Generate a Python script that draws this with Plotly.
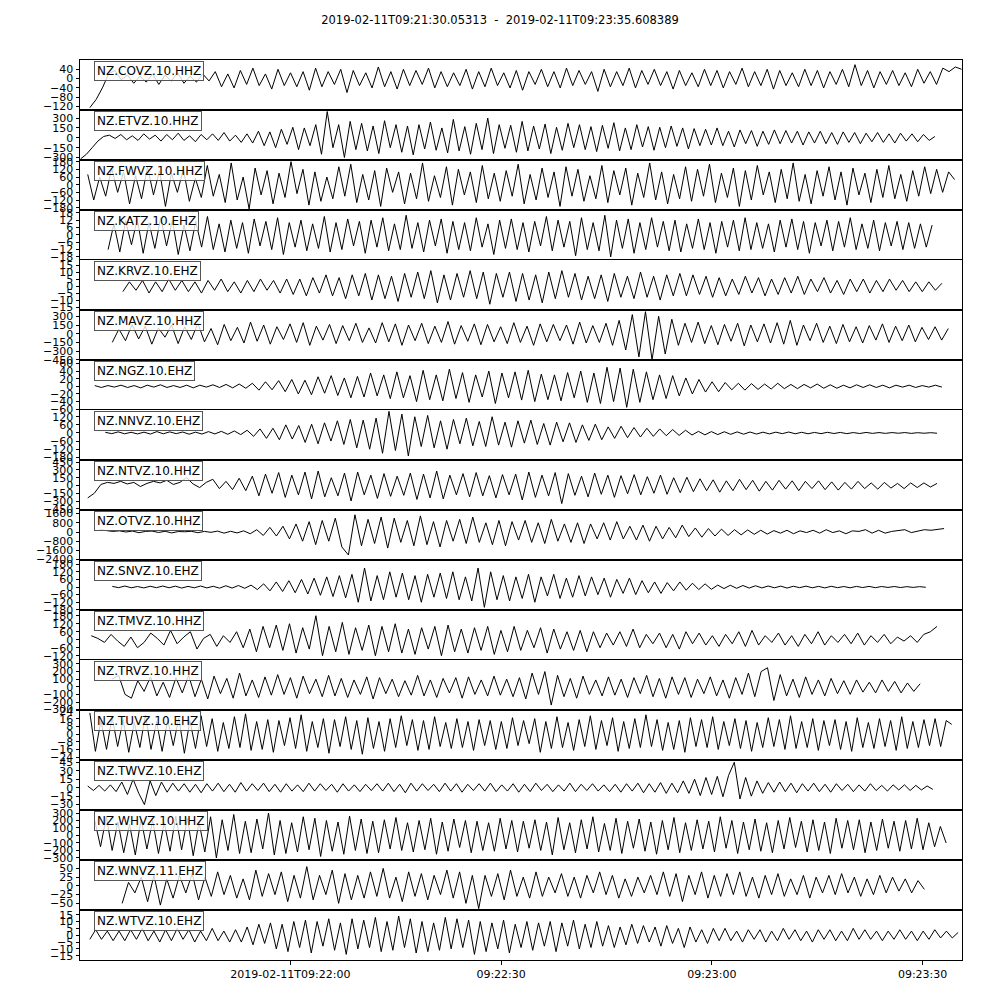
import plotly.graph_objects as go
from plotly.subplots import make_subplots

TITLE = "2019-02-11T09:21:30.05313  -  2019-02-11T09:23:35.608389"
T_TOTAL = 125.555  # seconds shown on the time axis

stations = ["NZ.COVZ.10.HHZ", "NZ.ETVZ.10.HHZ", "NZ.FWVZ.10.HHZ", "NZ.KATZ.10.EHZ",
            "NZ.KRVZ.10.EHZ", "NZ.MAVZ.10.HHZ", "NZ.NGZ.10.EHZ", "NZ.NNVZ.10.EHZ",
            "NZ.NTVZ.10.HHZ", "NZ.OTVZ.10.HHZ", "NZ.SNVZ.10.EHZ", "NZ.TMVZ.10.HHZ",
            "NZ.TRVZ.10.HHZ", "NZ.TUVZ.10.EHZ", "NZ.TWVZ.10.EHZ", "NZ.WHVZ.10.HHZ",
            "NZ.WNVZ.11.EHZ", "NZ.WTVZ.10.EHZ"]

# trace start / end times (s after 09:21:30.05313)
t_start = [1.4, 0.1, 1.1, 4.0, 6.1, 4.6, 2.1, 3.6, 1.1, 2.8, 4.6, 1.6, 4.6, 1.4, 1.1, 2.1, 6.0, 1.4]
t_end = [125.5, 121.7, 124.5, 121.3, 122.7, 123.6, 122.7, 122.0, 122.0, 123.0, 120.4, 122.0, 119.6, 124.1, 121.4, 123.3, 120.2, 125.0]

# y-axis limits per panel
y_lo = [-135, -338, -198, -20.5, -17.1, -453, -62, -200, -474, -2435, -181, -152, -305, -27, -39.5, -327, -69, -18.1]
y_hi = [80, 423, 193, 20.3, 18.6, 409, 69, 170, 493, 1913, 213, 223, 352, 25, 49, 340, 74, 18.4]

# y tick values per panel
y_ticks = [
    [40, 0, -40, -80, -120],
    [300, 150, 0, -150, -300],
    [180, 120, 60, 0, -60, -120, -180],
    [18, 12, 6, 0, -6, -12, -18],
    [15, 10, 5, 0, -5, -10, -15],
    [300, 150, 0, -150, -300, -450],
    [60, 40, 20, 0, -20, -40, -60],
    [120, 60, 0, -60, -120, -180],
    [450, 300, 150, 0, -150, -300, -450],
    [1600, 800, 0, -800, -1600, -2400],
    [180, 120, 60, 0, -60, -120, -180],
    [180, 120, 60, 0, -60, -120],
    [300, 200, 100, 0, -100, -200, -300],
    [24, 16, 8, 0, -8, -16, -24],
    [45, 30, 15, 0, -15, -30],
    [300, 200, 100, 0, -100, -200, -300],
    [50, 25, 0, -25, -50],
    [15, 10, 5, 0, -5, -10, -15],
]

# x tick positions (s) and labels
x_tick_vals = [29.947, 59.947, 89.947, 119.947]
x_tick_text = ["2019-02-11T09:22:00", "09:22:30", "09:23:00", "09:23:30"]

# waveform samples (counts)
covz = [-125, -90, -40, 20, 35, -5, 15, -20, 10, -15, 20, -25, 15, -10, 25, -20, 10, -15, 20, -10,
        30, -35, 20, -40, 35, -25, 45, -30, 20, -45, 40, -30, 25, -35, 30, -50, 45, -35, 30, -25,
        40, -60, 35, -30, 25, -40, 50, -35, 30, -45, 40, -30, 35, -25, 45, -40, 30, -35, 25, -30,
        40, -45, 30, -35, 45, -30, 25, -40, 35, -50, 30, -25, 40, -35, 30, -40, 45, -30, 35, -25,
        30, -55, 40, -35, 30, -30, 45, -40, 35, -25, 40, -30, 30, -45, 35, -30, 25, -35, 40, -30,
        35, -40, 30, -25, 45, -35, 30, -30, 40, -45, 35, -30, 25, -35, 40, -30, 35, -40, 30, -25,
        40, -35, 60, -30, 35, -40, 30, -25, 35, -30, 25, -35, 40, -20, 30, -25, 45, 30, 50, 40]
etvz = [-320, -250, -150, -50, 20, 40, -10, 50, -30, 30, -40, 60, -20, 40, -50, 50, -30, 70, -40, 30,
        -60, 50, -30, 60, -40, 80, -50, 40, -70, 60,
        -80, 100, -120, 90, -150, 130, -100, 160, -180, 150, -120, 200,
        -250, 400, -150, 200, -300, 250, -180,
        220, -200, 180, -240, 260, -150, 200, -220, 180, -260, 200, -170, 240, -190, 150, -230, 280, -200, 170, -250,
        220, -180, 300, -240, 200, -160, 190, -220, 250, -200, 180, -170, 210, -240, 160, -190, 220, -150, 200, -180,
        170, -210, 190, -160, 230, -200, 150, -180, 200, -140, 170, -190, 160, -150, 180, -130, 150, -170, 140, -120,
        130, -110, 150, -120, 100, -140, 120, -90, 110, -130, 100, -100, 120, -90, 110, -80, 100, -110, 90, -80,
        100, -90, 80, -100, 90, -70, 80, -90, 70, -60, 80, -70, 60, -80, 70, -50, 60, -60, 50, -40, 20]
fwvz = [80, -120, 60, -90, 130, -60, 100, -150, 70, -110, 140, -80, 110, -170, 90, -60, 120, -130, 50, -100,
        150, -90, 80, -140, 170, -120, 60, -190, 130, -80, 110, -150, 90, -100, 180, -70, 120, -160, 100, -130,
        60, -110, 140, -90, 160, -140, 80, -120, 110, -170, 130, -60, 100, -150, 90, -110, 170, -130, 70, -100,
        140, -160, 120, -80, 100, -140, 150, -110, 90, -130, 110, -90, 160, -150, 80, -120, 130, -100, 100, -170,
        140, -90, 120, -130, 70, -110, 150, -140, 110, -80, 130, -160, 90, -100, 170, -120, 100, -150, 80, -110,
        140, -130, 120, -90, 160, -140, 90, -100, 130, -170, 110, -120, 150, -80, 100, -140, 120, -110, 170, -130,
        80, -150, 110, -90, 140, -120, 100, -160, 130, -80, 90, -140, 120, -100, 150, -110, 80, -130, 110, -90,
        140, -70, 120, -60, 100, 40]
katz = [-12, 9, -14, 11, -8, 13, -15, 10, -11, 14, -9, 12, -16, 8, -13, 11, -10, 15, -12, 9,
        -14, 12, -11, 10, -15, 13, -9, 11, -12, 14, -16, 10, -10, 12, -13, 9, -11, 15, -14, 10,
        -12, 13, -9, 11, -15, 12, -10, 14, -13, 9, -12, 16, -11, 10, -14, 12, -9, 13, -15, 11,
        -12, 10, -13, 14, -10, 9, -16, 12, -11, 13, -12, 10, -14, 11, -9, 15, -13, 12, -10, 11,
        -17, 14, -12, 10, -13, 16, -18, 12, -11, 13, -15, 10, -12, 14, -10, 11, -13, 12, -14, 9,
        -11, 13, -12, 10, -15, 11, -10, 12, -13, 14, -12, 10, -11, 9, -14, 12, -10, 13, -12, 11,
        -15, 10, -9, 12, -13, 11, -10, 14, -12, 9, -11, 12, -13, 10, -9, 11, -12, 10, -11, 9, -10, 8]
krvz = [-4, 3, -3, 4, -5, 3, -4, 5, -3, 4, -4, 3, -5, 4, -3, 5, -4, 3, -5, 4, -4, 5, -3, 4, -5, 5,
        -6, 5, -7, 6, -5, 8, -7, 6, -9, 8, -7, 9, -10, 8, -9, 7, -11, 9, -8, 10, -9, 11, -12, 8,
        -10, 9, -8, 11, -9, 10, -13, 9, -8, 10, -11, 9, -10, 8, -12, 10, -9, 11, -8, 9, -10, 7,
        -9, 8, -11, 9, -8, 7, -9, 10, -8, 7, -10, 8, -7, 9,
        -7, 8, -6, 7, -8, 6, -7, 5, -6, 7, -5, 6, -7, 5, -6, 6, -5, 7, -6, 5, -4, 6, -5, 4,
        -6, 5, -4, 5, -5, 4, -4, 5, -3, 4, -4, 3, -4, 3, -3, 2]
mavz = [-150, 80, -120, 160, -90, 130, -180, 100, -60, 150, -170, 120, -100, 180, -140, 90, -190, 160, -120, 110,
        -160, 200, -130, 150, -180, 120, -100, 170, -150, 190, -200, 130, -110, 160, -170, 140, -120, 180, -150, 100,
        -160, 190, -140, 170, -200, 150, -120, 180, -170, 130, -150, 210, -180, 140, -130, 170, -190, 160, -140, 120,
        -170, 190, -150, 130, -200, 170, -140, 160, -120, 150, -180, 200, -160, 140, -150, 180, -200, 230,
        -280, 330, -400, 380, -450, 300, -350, 250,
        -200, 180, -150, 200, -170, 140, -190, 160, -130, 180, -210, 150, -140, 170, -160, 190, -180, 230, -200, 150,
        -120, 180, -150, 130, -170, 160, -140, 120, -160, 140, -110, 170, -150, 130, -120, 150, -140, 110, -100, 120,
        -110, 90]
ngz = [2, -3, 2, -2, 3, -3, 2, -4, 3, -2, 4, -3, 2, -3, 3, -4, 3, -2, 4, -3, 5, -4, 6, -5,
       8, -10, 12, -9, 15, -14, 18, -20, 16, -22, 25, -18, 28, -24, 22, -30, 26, -28, 35, -25, 30, -32,
       38, -30, 28, -40, 42, -35, 30, -38, 45, -32, 36, -42, 30, -28, 40, -45, 35, -30, 38, -36,
       42, -40, 32, -35, 30, -38, 36, -30, 40, -42, 35, -45, 50, -40, 48, -55, 45, -42, 38, -35,
       30, -32, 28, -25, 22,
       -20, 18, -15, 12, -14, 10, -9, 8, -10, 7, -8, 6, -7, 8, -6, 5, -6, 5, -4, 6, -5, 4, -5, 3,
       -4, 4, -3, 4, -3, 3, -4, 3, -2, 3, -3, 2, -2, 3, -2]
nnvz = [5, -5, 8, -6, 5, -7, 6, -8, 10, -6, 8, -5, 7, -9, 6, -8, 10, -7, 12, -10, 15, -12,
        20, -25, 30, -40, 35, -50, 60, -45, 55, -70, 65, -80, 75, -60, 90, -85, 100, -110, 95, -120, 110,
        -150, 160, -130, 140, -170, 120,
        -100, 130, -110, 90, -120, 100, -80, 110, -95, 85, -100, 120, -90, 80, -105, 90, -75, 95, -85, 70,
        -90, 80, -65, 75, -70, 60, -55, 65,
        -50, 45, -40, 50, -35, 40, -30, 35, -25, 30, -20, 25, -18, 20, -15, 12, -14, 10, -12, 9,
        -10, 8, -9, 7, -8, 6, -7, 6, -5, 7, -6, 5, -6, 4, -5, 5, -4, 4, -5, 3, -4, 4, -3, 3,
        -3, 3, -2, 3, -3, 2, -2, 2, -2]
ntvz = [-240, -150, 20, 60, 40, 80, 30, 60, -20, 40, 80, 50, 100, 20, 60, 150, 30, -40, 60, 120, -60, 80, -80, 140,
        -100, 180, -200, 220, -150, 250, -230, 200, -180, 260, -260, 280, -220, 150, -200, 240, -300, 260, -180, 200,
        -250, 230, -210, 180, -190, 240, -270, 220, -240, 280, -260, 200, -180, 230, -220, 250, -200, 190, -240, 210,
        -180, 220, -280, 260, -230, 200, -200, 250, -350, 230, -190, 180, -220, 240, -170, 200, -230, 190, -160, 210,
        -180, 170, -150, 200, -170, 150, -140, 160,
        -120, 130, -100, 110, -130, 90, -100, 120, -80, 100, -110, 80, -90, 100, -70, 90, -100, 80, -60, 90,
        -80, 70, -90, 60, -70, 80, -60, 50, -70, 60, -50, 40, -60, 50, -40, 50, -30, 40]
otvz = [200, 100, 50, 100, 0, 80, -60, 50, 80, -40, 60, -80, 40, 20, 60, -60, 50, -30, 80, -100, 60, -80, 100, -150,
        200, -300, 400, -350, 500, -600, 700, -800,
        900, -1100, 1000, -800, 1200, -1300, -2000, 1500, -1200, 1100, -1000, 1300, -1400, 1200, -900, 1000,
        -1200, 1400, -1100, 900, -1300, 1000, -800, 1100, -1000, 1300, -900, 800, -1100, 1000, -1200, 900,
        -700, 1000, -900, 800, -1000, 1100, -800, 700, -900, 800, -1000, 700, -600, 800, -700, 900,
        -600, 500, -700, 600, -800, 500, -600, 400, -500, 600, -400, 350,
        -450, 300, -350, 250, -300, 200, -250, 180, -200, 150, -180, 120,
        -100, 150, -150, 100, -50, 150, -100, 200, -50, 100, -150, 100, 50, 200, -100, 150, -100, 50, 100, 200,
        -50, 100, 200, 150, 250, 300]
snvz = [5, -5, 8, -6, 4, -7, 6, -5, 8, -6, 7, -8, 5, -6, 8, -7, 6, -9, 10, -8, 12, -10,
        15, -20, 25, -30, 40, -35, 50, -45, 60, -55, 70, -65, 80, -75, 90, -85,
        100, -120, 150, -110, 90, -100, 120, -80, 110, -100, 90, -120, 100, -80, 110, -90, 120, -100, 80, -110,
        150, -160, 120, -100, 90, -110, 80, -90, 100, -120, 80, -70, 100, -90, 70, -80, 90, -70, 80, -60,
        70, -80, 60, -50, 70, -60, 50,
        -45, 40, -50, 35, -30, 40, -25, 30, -20, 25, -18, 15, -12, 14, -10, 12,
        -8, 10, -7, 8, -6, 7, -8, 6, -5, 7, -6, 5, -7, 6, -5, 4, -6, 5, -4, 5, -5, 4, -3, 4, -4, 3, -3, 3, -2]
tmvz = [30, 10, -20, 40, -10, -50, 20, -60, -20, 50, 10, -40, 70, -30, 20, 60, -70, 10, 40, -50, 30, -20, 60, -60,
        80, -90, 100, -60, 110, -80, 120, -100, 90, -70, 180, -120, 100, -90, 130, -110, 90, -80, 110, -120,
        100, -90, 120, -100, 80, -110, 90, -70, 100, -120, 110, -90, 80, -100, 90, -80, 100, -110, 70, -90,
        100, -80, 70, -60, 90, -100, 80, -70, 60, -80, 70, -90, 60, -60,
        50, -40, 60, -50, 80, -60, 40, -30, 50, -60, 40, -70, 60, -30, 50, -40, 30, -50, 40, -30,
        60, -50, 70, -40, 30, -20, 50, -40, 30, -50, 40, -30, 60, -40, 30, -20, 40, -30, 50, -40,
        30, -20, 40, -30, 20, -10, 30, -20, 40, 60, 100]
trvz = [100, 150, -100, -150, 80, -60, 130, -120, 60, -140, 120, -80, 150, -130, 100, -160, 140, -90, 110, -150,
        180, -120, 90, -140, 130, -110, 160, -100, 120, -150, 140, -90, 100, -130, 150, -120, 110, -140, 90, -100,
        130, -160, 120, -90, 100, -130, 80, -110, 150, -120, 90, -140, 110, -80, 120, -150, 130, -100, 90, -120,
        140, -110, 100, -130, 120, -160, 180, -100, 200, -240, 150, -130, 110, -150, 140, -100, 90, -120, 130, -110,
        100, -140, 120, -90, 150, -130, 110, -150, 130, -100, 120, -140, 100, -90, 130, -120, 90, -150, 120, -100,
        180, -130, 200, 250, -180, 160, -120, 100, -140, 130, -100, 90, -120, 110, -90, 80, -100, 90, -70, 60,
        -80, 90, -60, 70, -80, 50, -60, 40]
tuvz = [22, -18, 14, -16, 18, -13, 15, -19, 12, -14, 20, -16, 13, -18, 15, -12, 17, -20, 14, -15,
        19, -13, 16, -18, 12, -15, 18, -14, 21, -17, 13, -16, 15, -19, 14, -12, 17, -15, 20, -18,
        13, -14, 16, -20, 15, -13, 18, -16, 14, -21, 17, -15, 13, -18, 16, -14, 19, -12, 15, -17,
        14, -16, 18, -13, 12, -15, 16, -14, 13, -17, 15, -12, 14, -16, 13, -15, 17, -12, 14, -10,
        16, -19, 13, -15, 18, -14, 12, -17, 15, -13, 19, -16, 14, -12, 17, -18, 13, -15, 16, -14,
        20, -13, 15, -17, 12, -16, 14, -19, 17, -13, 15, -14, 18, -16, 13, -12, 16, -15, 14, -18,
        12, -14, 17, -13, 15, -16, 19, -15, 13, -14, 16, -17, 14, -12, 15, -16, 13, -18, 17, -14,
        12, -15, 16, -13, 14, -17, 18, -15, 13, -14, 15, -12, 16, -13, 14, 10]
twvz = [3, -5, 4, -6, 5, -7,
        10, -12, 15, -10, -30, 12, -14, 10, -8,
        8, -6, 7, -8, 6, -9, 7, -6, 8, -7, 6, -8, 9, -6, 7, -5, 8, -7, 6, -8,
        7, -6, 5, -7, 8, -6, 7, -5, 6, -8, 7, -6, 5, -7, 6, -5, 7, -6, 8, -7,
        6, -9, 8, -6, 7, -5, 6, -7, 8, -6, 7, -8, 6, -5, 7, -6, 8, -7, 5, -6,
        7, -8, 6, -7, 8, -5, 6, -7, 5, -6, 8, -7, 6, -5, 7, -6, 5, -7, 6, -8,
        7, -6, 8, -9, 7, -8, 9, -10, 8, -9,
        12, -10, 15, -14, 18, -12, 20, -16, 22, 45, -20, 18, -15, 12,
        -10, 9, -8, 10, -7, 8, -9, 7, -6, 8, -7, 6, -8, 7, -5, 6, -7, 5, -6, 7,
        -5, 4, -6, 5, -4, 5, -5, 4, -4, 3, -3]
whvz = [200, -150, 250, -200, 180, -230, 150, -260, 220, -180, 200, -240, 170, -210, 260, -190, 230, -270, 180, -220,
        250, -300, 210, -200, 280, -240, 190, -230, 220, -180, 300, -260, 200, -240, 170, -220, 250, -190, 230, -280,
        200, -210, 180, -250, 260, -200, 220, -240, 190, -230, 210, -180, 240, -200, 170, -220, 200, -190, 230, -250,
        180, -210, 220, -160, 200, -230, 190, -200, 170, -210, 230, -180, 200, -220, 190, -170, 210, -200, 180, -260,
        240, -190, 170, -230, 210, -180, 250, -220, 160, -200, 230, -240, 190, -170, 220, -210, 180, -250, 200, -190,
        240, -230, 170, -200, 210, -180, 190, -220, 250, -170, 200, -240, 180, -190, 220, -210, 170, -230, 200, -180,
        240, -160, 190, -220, 210, -200, 180, -240, 230, -170, 200, -190, 210, -230, 180, -200, 220, -170, 190, -210,
        200, -180, 230, -190, 170, -150, 120, -100]
wnvz = [-50, 10, -20, 25, -45, 30, -55, 20, -35, 30, -20, 35, -40, 25, -30, 40, -25, 30, -35, 20,
        -40, 45, -30, 35, -25, 40, -45, 30, -35, 55, -40, 30, -25, 45, -50, 35, -40, 30, -35, 40,
        -30, 50, -35, 25, -45, 40, -30, 35, -40, 30, -25, 45, -35, 40, -50, 30, -65, 30, -30, 35,
        -40, 45, -30, 25, -35, 40, -30, 25, -20, 35, -30, 25, -35, 30, -20, 40, -25, 30, -35, 20,
        -30, 25, -20, 30, -25, 40, -30, 35, -45, 30, -25, 40, -35, 30, -30, 35, -25, 40, -30, 25,
        -35, 30, -25, 35, -30, 20, -25, 30, -35, 25, -20, 30, -25, 35, -20, 25, -30, 20, -25, 30,
        -20, 25, -15, 20, -20, 15, -10]
wtvz = [-3, 4, -3, 3, -4, 3, -4, 4, -3, 5, -4, 3, -5, 4, -4, 5, -3, 4, -5, 3, -4, 5, -4, 3, -5, 4, -5,
        6, -7, 8, -6, 9, -10, 8, -12, 10, -9, 11, -13, 10, -8, 12, -11, 9, -14, 12, -10,
        11, -9, 13, -12, 10, -11, 14, -9, 12, -13, 10, -12, 9, -11, 13, -10, 12, -9, 11, -14,
        10, -12, 9, -10, 11, -13, 8, -9, 10, -11, 9, -8, 10, -12, 9, -8, 11, -10, 8, -9, 10,
        -8, 7, -9, 6, -7, 8, -6, 7, -5, 6, -8, 7, -6, 5, -9, 6, -5,
        4, -6, 5, -4, 5, -4, 3, -5, 4, -3, 4, -5, 3, -4, 5, -3, 4, -4, 3, -5, 4, -3, 4, -4,
        3, -4, 5, -3, 4, -3, 3, -4, 3, -3, 4, -3, 3, -4, 3, -3, 4, -2, 3, -2, 2]

waveforms = [covz, etvz, fwvz, katz, krvz, mavz, ngz, nnvz, ntvz, otvz,
             snvz, tmvz, trvz, tuvz, twvz, whvz, wnvz, wtvz]

N = len(stations)
FONT = "DejaVu Sans"

fig = make_subplots(rows=N, cols=1, shared_xaxes=True, vertical_spacing=0)

for i in range(N):
    vals = waveforms[i]
    n = len(vals)
    step = (t_end[i] - t_start[i]) / (n - 1)
    times = [t_start[i] + k * step for k in range(n)]
    fig.add_trace(go.Scatter(x=times, y=vals, mode="lines",
                             line=dict(color="black", width=1),
                             showlegend=False, hoverinfo="skip"),
                  row=i + 1, col=1)
    fig.update_yaxes(range=[y_lo[i], y_hi[i]],
                     tickvals=y_ticks[i],
                     ticktext=[str(v).replace("-", "\u2212") for v in y_ticks[i]],
                     ticks="outside", ticklen=3.5, tickwidth=1, tickcolor="black",
                     showgrid=False, zeroline=False,
                     showline=True, mirror=True, linecolor="black", linewidth=1,
                     tickfont=dict(family=FONT, size=11, color="black"),
                     row=i + 1, col=1)
    bottom = (i == N - 1)
    fig.update_xaxes(range=[0, T_TOTAL],
                     tickvals=x_tick_vals, ticktext=x_tick_text,
                     showticklabels=bottom,
                     ticks="outside" if bottom else "", ticklen=3.5, tickwidth=1,
                     tickcolor="black",
                     showgrid=False, zeroline=False,
                     showline=True, mirror=True, linecolor="black", linewidth=1,
                     tickfont=dict(family=FONT, size=11, color="black"),
                     row=i + 1, col=1)
    fig.add_annotation(xref="paper", yref="paper",
                       x=14 / 882, y=1 - i / N, yshift=-1,
                       xanchor="left", yanchor="top", showarrow=False,
                       text=stations[i],
                       font=dict(family=FONT, size=12, color="black"),
                       bgcolor="rgba(255,255,255,0.8)", bordercolor="#555555",
                       borderwidth=1, borderpad=2)

fig.update_layout(
    width=1000, height=1000,
    margin=dict(l=80, r=38, t=60, b=40),
    paper_bgcolor="white", plot_bgcolor="white",
    title=dict(text=TITLE, x=0.5, xref="container", y=0.98, yanchor="middle",
               font=dict(family=FONT, size=11.5, color="black")),
)

fig.write_html("out.html")
